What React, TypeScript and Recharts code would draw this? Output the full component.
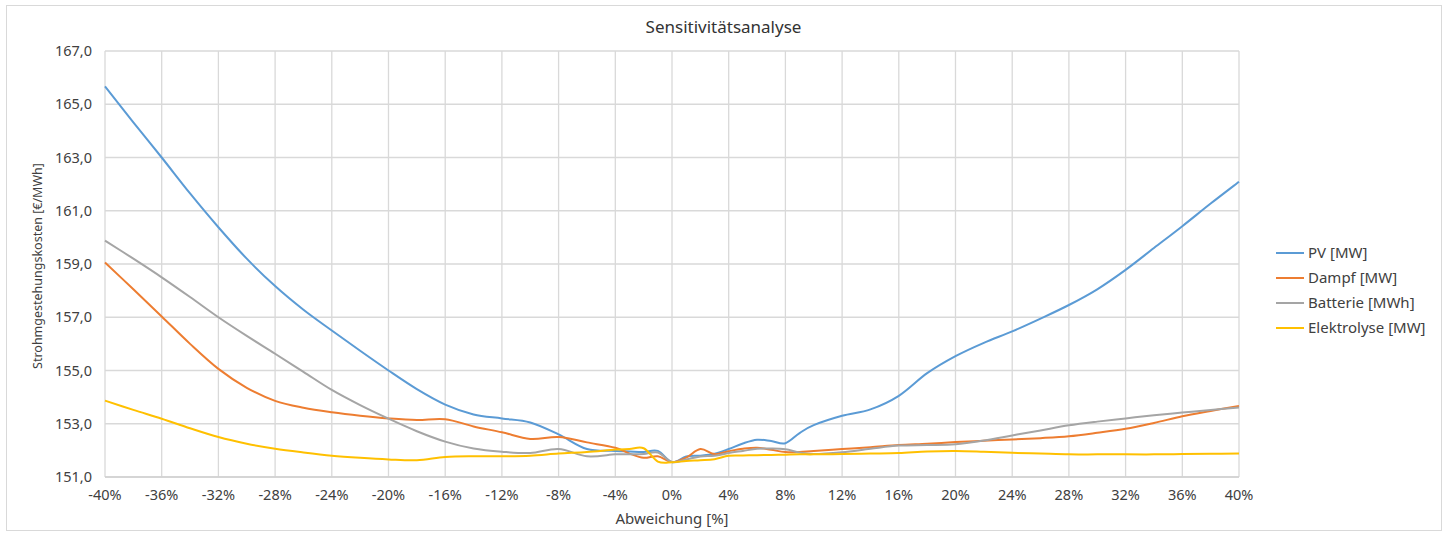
import React from "react";
import { LineChart, Line, XAxis, YAxis, CartesianGrid } from "recharts";

const xValues = [-40, -38, -36, -34, -32, -30, -28, -26, -24, -22, -20, -18, -16, -14, -12, -10, -8, -6, -4, -3, -2, -1, 0, 1, 2, 3, 4, 5, 6, 7, 8, 9, 10, 12, 14, 16, 18, 20, 22, 24, 26, 28, 30, 32, 34, 36, 38, 40];

const pv = [165.67, 164.32, 163.0, 161.65, 160.38, 159.2, 158.17, 157.28, 156.5, 155.74, 155.0, 154.3, 153.72, 153.35, 153.2, 153.05, 152.6, 152.05, 151.98, 151.96, 151.94, 151.98, 151.56, 151.77, 151.8, 151.87, 152.05, 152.26, 152.4, 152.35, 152.27, 152.65, 152.95, 153.3, 153.54, 154.05, 154.9, 155.54, 156.04, 156.47, 156.95, 157.46, 158.05, 158.78, 159.6, 160.42, 161.27, 162.09];

const dampf = [159.06, 158.05, 157.03, 156.0, 155.06, 154.35, 153.86, 153.6, 153.43, 153.3, 153.2, 153.14, 153.17, 152.9, 152.68, 152.43, 152.5, 152.3, 152.1, 151.88, 151.72, 151.78, 151.56, 151.73, 152.05, 151.86, 151.97, 152.06, 152.1, 152.02, 151.94, 151.94, 151.98, 152.05, 152.12, 152.2, 152.25, 152.31, 152.36, 152.41, 152.46, 152.53, 152.66, 152.81, 153.03, 153.28, 153.48, 153.67];

const batterie = [159.88, 159.2, 158.5, 157.76, 157.0, 156.3, 155.63, 154.95, 154.27, 153.7, 153.19, 152.72, 152.33, 152.07, 151.95, 151.9, 152.05, 151.78, 151.85, 151.85, 151.86, 151.92, 151.56, 151.66, 151.77, 151.8, 151.9, 151.98, 152.06, 152.07, 152.04, 151.92, 151.86, 151.93, 152.06, 152.18, 152.2, 152.23, 152.37, 152.56, 152.75, 152.94, 153.08, 153.2, 153.32, 153.42, 153.52, 153.61];

const elektrolyse = [153.87, 153.52, 153.19, 152.83, 152.5, 152.25, 152.06, 151.92, 151.8, 151.72, 151.66, 151.63, 151.75, 151.78, 151.78, 151.8, 151.88, 151.94, 152.03, 152.05, 152.08, 151.58, 151.55, 151.6, 151.63, 151.67, 151.8, 151.81, 151.82, 151.83, 151.84, 151.85, 151.85, 151.86, 151.88, 151.9, 151.96, 151.98, 151.95, 151.91, 151.88, 151.85, 151.85, 151.85, 151.85, 151.86, 151.87, 151.88];

const xTicks = [-40, -36, -32, -28, -24, -20, -16, -12, -8, -4, 0, 4, 8, 12, 16, 20, 24, 28, 32, 36, 40];
const yTicks = [151, 153, 155, 157, 159, 161, 163, 165, 167];

const seriesNames = ["PV [MW]", "Dampf [MW]", "Batterie [MWh]", "Elektrolyse [MW]"];
const seriesKeys = ["pv", "dampf", "batterie", "elektrolyse"];
const seriesColors = ["#5B9BD5", "#ED7D31", "#A5A5A5", "#FFC000"];

const data = xValues.map((x, i) => ({
  x,
  pv: pv[i],
  dampf: dampf[i],
  batterie: batterie[i],
  elektrolyse: elektrolyse[i],
}));

// Excel-like smoothed line (Catmull-Rom style Bezier)
const smoothCurve = (context: any) => {
  let pts: number[][] = [];
  return {
    areaStart() {},
    areaEnd() {},
    lineStart() {
      pts = [];
    },
    point(x: number, y: number) {
      pts.push([+x, +y]);
    },
    lineEnd() {
      const n = pts.length;
      if (!n) return;
      context.moveTo(pts[0][0], pts[0][1]);
      for (let i = 0; i < n - 1; i++) {
        const p0 = pts[i - 1] || pts[i];
        const p1 = pts[i];
        const p2 = pts[i + 1];
        const p3 = pts[i + 2] || p2;
        const c1x = p1[0] + (p2[0] - p0[0]) / 6;
        const c1y = p1[1] + (p2[1] - p0[1]) / 6;
        const c2x = p2[0] - (p3[0] - p1[0]) / 6;
        const c2y = p2[1] - (p3[1] - p1[1]) / 6;
        context.bezierCurveTo(c1x, c1y, c2x, c2y, p2[0], p2[1]);
      }
    },
  };
};

const FONT = "'Noto Sans', 'Open Sans', sans-serif";

export default function App() {
  return (
    <div style={{ position: "absolute", left: 0, top: 0, width: 1447, height: 537, background: "#fff", fontFamily: FONT }}>
      <div style={{ position: "absolute", left: 6, top: 5, width: 1436, height: 526, border: "1px solid #d9d9d9", boxSizing: "border-box" }} />
      <div style={{ position: "absolute", left: 0, top: 15, width: 1447, textAlign: "center", fontSize: 17, color: "#333", lineHeight: "24px" }}>
        Sensitivitätsanalyse
      </div>
      <div style={{ position: "absolute", left: 672 - 150, top: 507, width: 300, textAlign: "center", fontSize: 15, color: "#404040", lineHeight: "22px" }}>
        Abweichung [%]
      </div>
      <div style={{ position: "absolute", left: 38 - 150, top: 266 - 10, width: 300, height: 20, textAlign: "center", fontSize: 12.5, color: "#404040", lineHeight: "20px", transform: "rotate(-90deg)" }}>
        Strohmgestehungskosten [€/MWh]
      </div>
      <div style={{ position: "absolute", left: 1276, top: 240 }}>
        {seriesNames.map((n, i) => (
          <div key={n} style={{ display: "flex", alignItems: "center", height: 25 }}>
            <div style={{ width: 28, height: 2, background: seriesColors[i], marginRight: 4 }} />
            <span style={{ fontSize: 15, color: "#404040", lineHeight: "25px" }}>{n}</span>
          </div>
        ))}
      </div>
      <div style={{ position: "absolute", left: 0, top: 0 }}>
        <LineChart width={1447} height={537} data={data} margin={{ top: 51, right: 208, bottom: 0, left: 0 }}>
          <CartesianGrid stroke="#d9d9d9" strokeWidth={1.3} />
          <XAxis
            dataKey="x"
            type="number"
            domain={[-40, 40]}
            ticks={xTicks}
            tickFormatter={(v: number) => `${v}%`}
            tickLine={false}
            tickSize={0}
            tickMargin={13}
            axisLine={{ stroke: "#d0d0d0", strokeWidth: 1.5 }}
            tick={{ fill: "#404040", fontSize: 14.5, fontFamily: FONT }}
            interval={0}
            height={60}
          />
          <YAxis
            type="number"
            domain={[151, 167]}
            ticks={yTicks}
            tickFormatter={(v: number) => v.toFixed(1).replace(".", ",")}
            tickLine={false}
            tickSize={0}
            tickMargin={13}
            axisLine={false}
            tick={{ fill: "#404040", fontSize: 14.5, fontFamily: FONT }}
            interval={0}
            width={105}
            allowDataOverflow
          />
          {seriesKeys.map((k, i) => (
            <Line
              key={k}
              dataKey={k}
              name={seriesNames[i]}
              type={smoothCurve as any}
              stroke={seriesColors[i]}
              strokeWidth={2}
              dot={false}
              activeDot={false}
              isAnimationActive={false}
            />
          ))}
        </LineChart>
      </div>
    </div>
  );
}
